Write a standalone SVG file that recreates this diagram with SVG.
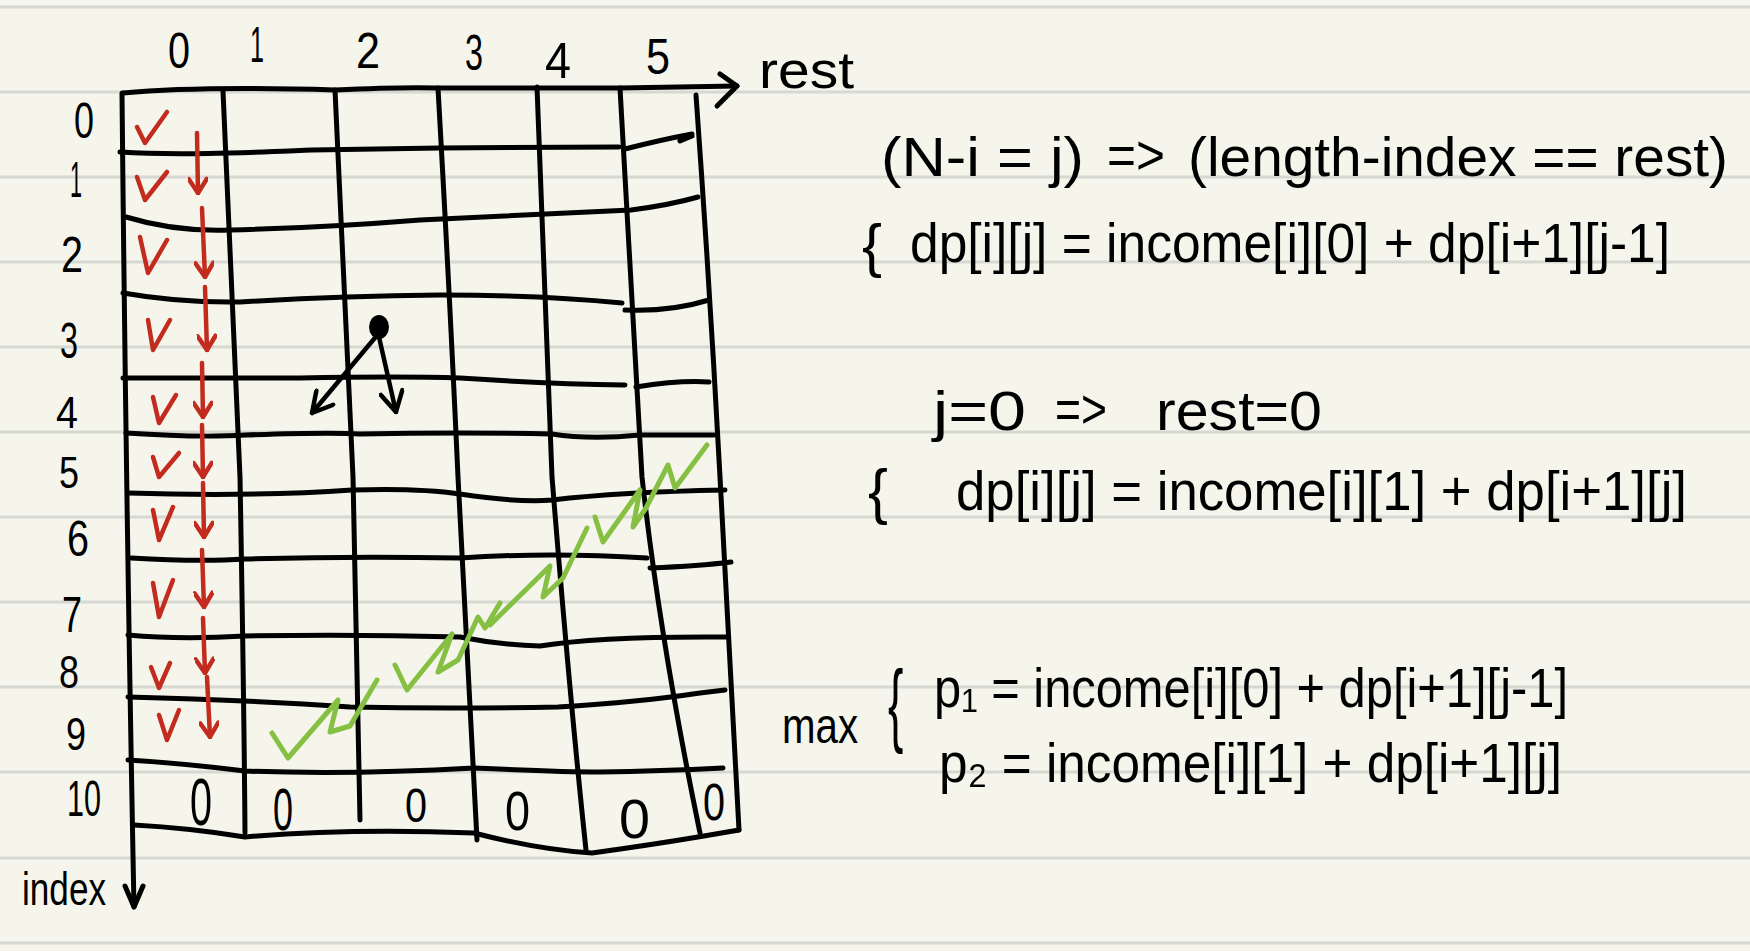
<svg xmlns="http://www.w3.org/2000/svg" width="1750" height="951" viewBox="0 0 1750 951">
<defs>
<style>
.rule{stroke:#d8d8d3;stroke-width:3;fill:none}
.g{stroke:#000;stroke-width:5;fill:none;stroke-linecap:round;stroke-linejoin:round}
.red{stroke:#c42b1f;stroke-width:4.5;fill:none;stroke-linecap:round;stroke-linejoin:round}
.grn{stroke:#85c043;stroke-width:5;fill:none;stroke-linecap:round;stroke-linejoin:round}
.blk{stroke:#000;stroke-width:4.5;fill:none;stroke-linecap:round;stroke-linejoin:round}
text{font-family:"Liberation Sans","DejaVu Sans",Arial,sans-serif;fill:#000}
.lbl{font-size:50px;text-anchor:middle}
.f{font-size:56px}
</style>
<marker id="ahR" viewBox="0 0 20 20" refX="18" refY="10" markerWidth="20" markerHeight="20" markerUnits="userSpaceOnUse" orient="auto">
<path d="M4,1 L18,10 L4,19" fill="none" stroke="#c42b1f" stroke-width="4.5" stroke-linecap="round" stroke-linejoin="round"/>
</marker>
<marker id="ahK" viewBox="0 0 26 26" refX="24" refY="13" markerWidth="26" markerHeight="26" markerUnits="userSpaceOnUse" orient="auto">
<path d="M4,2 L24,13 L4,24" fill="none" stroke="#000" stroke-width="4.5" stroke-linecap="round" stroke-linejoin="round"/>
</marker>
</defs>
<rect width="1750" height="951" fill="#f5f5ec"/>
<g id="ruled-paper">
<path class="rule" d="M0,7H1750M0,92H1750M0,177H1750M0,262H1750M0,347H1750M0,432H1750M0,517H1750M0,602H1750M0,687H1750M0,772H1750M0,858H1750M0,943H1750"/>
</g>
<g id="grid">
<path class="g" d="M123,93 Q200,86 335,90 Q400,87 438,88 L620,88 L737,86"/>
<path class="g" d="M720,74 L737,86 L717,106"/>
<path class="g" d="M120,152 C180,156 260,152 312,150 L440,148 L619,147"/>
<path class="g" d="M625,149 Q660,140 692,134 M680,141 L692,136"/>
<path class="g" d="M126,217 Q175,232 230,230 Q320,228 420,220 L631,210 Q670,205 698,197"/>
<path class="g" d="M123,293 Q180,303 240,302 Q340,296 440,295 Q540,295 622,303"/>
<path class="g" d="M625,310 Q670,312 709,300"/>
<path class="g" d="M123,378 Q200,378 300,378 Q400,376 460,378 Q550,384 625,385"/>
<path class="g" d="M636,387 Q680,380 709,382"/>
<path class="g" d="M126,433 Q200,438 245,435 Q330,432 360,434 Q460,432 552,434 Q590,440 640,435 L714,435"/>
<path class="g" d="M128,493 Q250,497 352,490 Q420,488 460,494 Q520,503 552,500 Q620,492 725,490"/>
<path class="g" d="M131,558 Q200,562 245,559 Q350,556 460,558 Q550,552 647,558"/>
<path class="g" d="M650,568 Q700,566 731,562"/>
<path class="g" d="M128,635 Q180,640 245,636 Q350,634 460,637 Q500,645 540,646 Q600,636 728,637"/>
<path class="g" d="M128,697 Q250,700 350,707 Q450,709 558,707 Q640,702 700,693 L725,690"/>
<path class="g" d="M128,760 Q180,763 245,771 Q350,775 474,768 Q560,772 600,772 Q660,771 723,768"/>
<path class="g" d="M134,825 Q190,828 245,837 Q350,828 474,833 Q540,850 592,853 Q650,845 698,837 L739,830"/>
<path class="g" d="M122,93 Q126,500 134,907"/>
<path class="g" d="M125,886 L134,907 L143,886"/>
<path class="g" d="M223,91 Q232,300 240,477 Q244,700 245,833"/>
<path class="g" d="M335,90 Q345,300 353,477 Q356,650 360,820"/>
<path class="g" d="M438,88 Q450,300 458,477 Q470,700 477,840"/>
<path class="g" d="M537,87 Q545,300 552,477 Q570,700 586,850"/>
<path class="g" d="M620,88 Q630,280 642,477 Q660,640 700,833"/>
<path class="g" d="M696,95 Q710,290 720,477 Q730,660 739,830"/>
</g>
<g id="axis-labels">
<text class="lbl" x="179" y="68" textLength="22" lengthAdjust="spacingAndGlyphs">0</text>
<text class="lbl" x="257" y="62" textLength="14" lengthAdjust="spacingAndGlyphs">1</text>
<text class="lbl" x="368" y="68" textLength="24" lengthAdjust="spacingAndGlyphs">2</text>
<text class="lbl" x="474" y="70" textLength="18" lengthAdjust="spacingAndGlyphs">3</text>
<text class="lbl" x="558" y="78" textLength="26" lengthAdjust="spacingAndGlyphs">4</text>
<text class="lbl" x="658" y="74" textLength="24" lengthAdjust="spacingAndGlyphs">5</text>
<text x="759" y="88" style="font-size:52px" textLength="95" lengthAdjust="spacingAndGlyphs">rest</text>
<text class="lbl" x="84" y="138" textLength="20" lengthAdjust="spacingAndGlyphs">0</text>
<text class="lbl" x="76" y="197" textLength="12" lengthAdjust="spacingAndGlyphs">1</text>
<text class="lbl" x="72" y="272" textLength="22" lengthAdjust="spacingAndGlyphs">2</text>
<text class="lbl" x="69" y="358" textLength="18" lengthAdjust="spacingAndGlyphs">3</text>
<text class="lbl" x="67" y="428" style="font-size:44px" textLength="22" lengthAdjust="spacingAndGlyphs">4</text>
<text class="lbl" x="69" y="488" style="font-size:44px" textLength="20" lengthAdjust="spacingAndGlyphs">5</text>
<text class="lbl" x="78" y="556" textLength="22" lengthAdjust="spacingAndGlyphs">6</text>
<text class="lbl" x="72" y="632" textLength="20" lengthAdjust="spacingAndGlyphs">7</text>
<text class="lbl" x="69" y="688" style="font-size:46px" textLength="20" lengthAdjust="spacingAndGlyphs">8</text>
<text class="lbl" x="76" y="750" style="font-size:46px" textLength="20" lengthAdjust="spacingAndGlyphs">9</text>
<text class="lbl" x="84" y="816" textLength="34" lengthAdjust="spacingAndGlyphs">10</text>
<text x="22" y="905" style="font-size:46px" textLength="84" lengthAdjust="spacingAndGlyphs">index</text>
</g>
<g id="base-row">
<text x="190" y="825" style="font-size:66px" textLength="22" lengthAdjust="spacingAndGlyphs">0</text>
<text x="273" y="830" style="font-size:59px" textLength="20" lengthAdjust="spacingAndGlyphs">0</text>
<text x="405" y="822" style="font-size:48px" textLength="22" lengthAdjust="spacingAndGlyphs">0</text>
<text x="505" y="830" style="font-size:55px" textLength="25" lengthAdjust="spacingAndGlyphs">0</text>
<text x="619" y="838" style="font-size:56px" textLength="31" lengthAdjust="spacingAndGlyphs">0</text>
<text x="703" y="820" style="font-size:51px" textLength="22" lengthAdjust="spacingAndGlyphs">0</text>
</g>
<g id="red-checks">
<polyline class="red" points="137,127 145,143 167,112"/>
<polyline class="red" points="137,177 145,200 167,172"/>
<polyline class="red" points="140,237 148,273 167,240"/>
<polyline class="red" points="148,320 153,350 170,320"/>
<polyline class="red" points="153,397 159,423 176,395"/>
<polyline class="red" points="153,457 159,477 179,453"/>
<polyline class="red" points="153,510 159,540 173,507"/>
<polyline class="red" points="153,583 159,617 173,580"/>
<polyline class="red" points="151,667 159,688 170,663"/>
<polyline class="red" points="159,715 167,740 179,710"/>
</g>
<g id="connectors">
<g id="red-arrows">
<line class="red" x1="197" y1="133" x2="198" y2="193" marker-end="url(#ahR)"/>
<line class="red" x1="202" y1="208" x2="205" y2="277" marker-end="url(#ahR)"/>
<line class="red" x1="205" y1="287" x2="207" y2="350" marker-end="url(#ahR)"/>
<line class="red" x1="202" y1="363" x2="203" y2="417" marker-end="url(#ahR)"/>
<line class="red" x1="202" y1="425" x2="203" y2="477" marker-end="url(#ahR)"/>
<line class="red" x1="203" y1="483" x2="204" y2="537" marker-end="url(#ahR)"/>
<line class="red" x1="202" y1="550" x2="204" y2="607" marker-end="url(#ahR)"/>
<line class="red" x1="203" y1="618" x2="205" y2="673" marker-end="url(#ahR)"/>
<line class="red" x1="207" y1="677" x2="210" y2="737" marker-end="url(#ahR)"/>
</g>
<g id="dependency">
<ellipse cx="379" cy="327" rx="10" ry="12" fill="#000"/>
<line class="blk" x1="379" y1="333" x2="312" y2="413" marker-end="url(#ahK)"/>
<line class="blk" x1="379" y1="337" x2="396" y2="412" marker-end="url(#ahK)"/>
</g>
</g>
<g id="green-diagonal">
<polyline class="grn" points="272,733 288,758 338,700 330,732 350,726 377,680"/>
<polyline class="grn" points="395,665 407,690 452,634 438,672 458,660 478,617 485,628 500,603"/>
<polyline class="grn" points="490,625 550,566 543,597 563,578 587,528"/>
<polyline class="grn" points="595,517 603,542 640,490 633,527 646,508 668,465 675,488 707,445"/>
</g>
<g id="formulas">
<text class="f" x="881" y="176" textLength="203" lengthAdjust="spacingAndGlyphs">(N-i = j)</text>
<text class="f" x="1107" y="174" textLength="58" lengthAdjust="spacingAndGlyphs">=&gt;</text>
<text class="f" x="1188" y="176" textLength="540" lengthAdjust="spacingAndGlyphs">(length-index == rest)</text>
<text x="862" y="266" style="font-size:60px" textLength="20" lengthAdjust="spacingAndGlyphs">{</text>
<text class="f" x="910" y="262" textLength="760" lengthAdjust="spacingAndGlyphs">dp[i][j] = income[i][0] + dp[i+1][j-1]</text>
<text class="f" x="933" y="430" textLength="93" lengthAdjust="spacingAndGlyphs">j=0</text>
<text class="f" x="1055" y="428" textLength="52" lengthAdjust="spacingAndGlyphs">=&gt;</text>
<text class="f" x="1156" y="430" textLength="166" lengthAdjust="spacingAndGlyphs">rest=0</text>
<text x="868" y="512" style="font-size:62px" textLength="20" lengthAdjust="spacingAndGlyphs">{</text>
<text class="f" x="956" y="510" textLength="731" lengthAdjust="spacingAndGlyphs">dp[i][j] = income[i][1] + dp[i+1][j]</text>
<text x="782" y="743" style="font-size:50px" textLength="76" lengthAdjust="spacingAndGlyphs">max</text>
<text transform="translate(888,735) scale(1,2)" style="font-size:46px">{</text>
<text class="f" x="934" y="707" textLength="634" lengthAdjust="spacingAndGlyphs">p₁ = income[i][0] + dp[i+1][j-1]</text>
<text class="f" x="939" y="782" textLength="623" lengthAdjust="spacingAndGlyphs">p₂ = income[i][1] + dp[i+1][j]</text>
</g>
</svg>
